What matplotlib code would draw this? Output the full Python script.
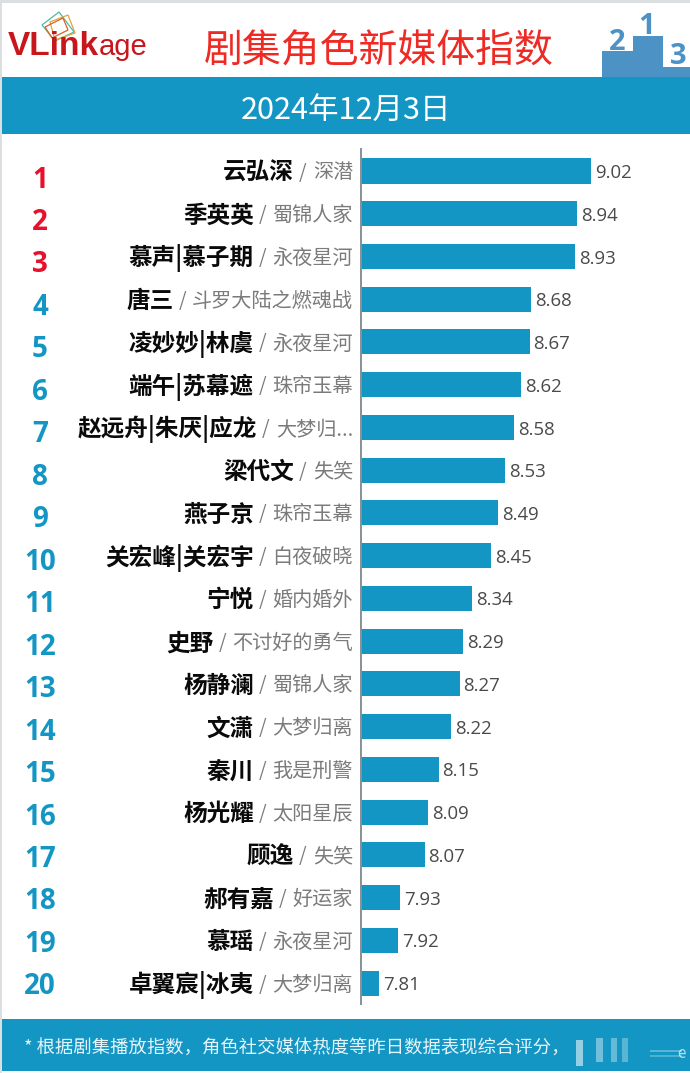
import matplotlib
matplotlib.use("Agg")

import matplotlib.pyplot as plt
from matplotlib.patches import Polygon, Rectangle

plt.rcParams["font.family"] = ["Noto Sans CJK SC", "DejaVu Sans"]

# ============================================================
# Data
# ============================================================

ranks = list(range(1, 21))

names = [
    "云弘深", "季英英", "慕声|慕子期", "唐三", "凌妙妙|林虞",
    "端午|苏幕遮", "赵远舟|朱厌|应龙", "梁代文", "燕子京", "关宏峰|关宏宇",
    "宁悦", "史野", "杨静澜", "文潇", "秦川",
    "杨光耀", "顾逸", "郝有嘉", "慕瑶", "卓翼宸|冰夷",
]

shows = [
    "深潜", "蜀锦人家", "永夜星河", "斗罗大陆之燃魂战", "永夜星河",
    "珠帘玉幕", "大梦归...", "失笑", "珠帘玉幕", "白夜破晓",
    "婚内婚外", "不讨好的勇气", "蜀锦人家", "大梦归离", "我是刑警",
    "太阳星辰", "失笑", "好运家", "永夜星河", "大梦归离",
]

values = [
    9.02, 8.94, 8.93, 8.68, 8.67, 8.62, 8.58, 8.53, 8.49, 8.45,
    8.34, 8.29, 8.27, 8.22, 8.15, 8.09, 8.07, 7.93, 7.92, 7.81,
]

title = "剧集角色新媒体指数"
date_label = "2024年12月3日"
footnote = "* 根据剧集播放指数，角色社交媒体热度等昨日数据表现综合评分，"

BLUE = "#1496c4"
RED = "#e8112d"
PODIUM = "#4d92c4"

W, H = 690, 1073


def main():

    fig = plt.figure(figsize=(W / 100, H / 100), dpi=100, facecolor="white")

    # page furniture, in pixel coordinates
    page = fig.add_axes([0, 0, 1, 1])
    page.set_xlim(0, W)
    page.set_ylim(H, 0)
    page.axis("off")

    page.add_patch(Rectangle((0, 0), W, 2.5, color="#dcdfe2", lw=0))
    page.add_patch(Rectangle((0, 0), 2, H, color="#dcdfe2", lw=0))
    page.add_patch(Rectangle((2, 77), W, 57, color=BLUE, lw=0))
    page.add_patch(Rectangle((2, 1019), W, 52, color=BLUE, lw=0))

    # logo
    page.add_patch(Polygon([(42, 25), (59, 12), (74, 32), (55, 41)], fill=False, ec="#4fb8a8", lw=0.9))
    page.add_patch(Polygon([(50, 22), (68, 15), (75, 33), (55, 40)], fill=False, ec="#e8a13a", lw=0.9))
    page.add_patch(Polygon([(45, 27), (63, 18), (68, 30), (52, 38)], fill=False, ec="#d9622b", lw=0.9))
    page.text(8, 55, "VLink", color="#c8161d", fontsize=24, fontweight="bold",
              family="Liberation Sans", ha="left", va="baseline")
    page.text(99, 55, "age", color="#c8161d", fontsize=21,
              family="Liberation Sans", ha="left", va="baseline")

    page.text(379, 52, title, color="#ee2a24", fontsize=28, ha="center", va="center")
    page.text(346, 110, date_label, color="white", fontsize=22, ha="center", va="center")

    # podium
    page.add_patch(Polygon(
        [(602, 77), (602, 51), (633, 51), (633, 36), (663, 36), (663, 67), (690, 67), (690, 77)],
        color=PODIUM, lw=0,
    ))
    page.text(617, 42, "2", color=PODIUM, fontsize=21, fontweight="bold",
              family="Open Sans", ha="center", va="center")
    page.text(647, 27, "1", color=PODIUM, fontsize=21, fontweight="bold",
              family="Open Sans", ha="center", va="center")
    page.text(678, 57, "3", color=PODIUM, fontsize=21, fontweight="bold",
              family="Open Sans", ha="center", va="center")

    page.text(24, 1049, footnote, color="#e6f5fb", fontsize=13.2, ha="left", va="center")

    # remains of the watermark over the footer
    for x0, wd, y0, ht, alpha in [(576, 7, 1040, 26, 0.55), (596, 7, 1038, 24, 0.4), (611, 6, 1038, 24, 0.35),
                                  (622, 6, 1038, 24, 0.3), (650, 32, 1050, 2, 0.3), (650, 32, 1055, 2, 0.25)]:
        page.add_patch(Rectangle((x0, y0), wd, ht, color="white", alpha=alpha, lw=0))
    page.text(681, 1054, "e", color="white", alpha=0.7, fontsize=11, ha="center", va="center")

    # bars
    left = 361
    top = 149
    bottom = 1004
    row0 = 171
    row_step = 42.74
    per_unit = 175

    ax = fig.add_axes([left / W, 1 - bottom / H, (W - left) / W, (bottom - top) / H])
    ax.patch.set_alpha(0)

    positions = list(range(len(values)))
    base = values[-1] - 18 / per_unit

    ax.barh(positions, values, height=0.585, color=BLUE, linewidth=0)
    ax.set_xlim(base, base + (W - left) / per_unit)
    ax.set_ylim((bottom - row0) / row_step, (top - row0) / row_step)

    for spine in ["top", "right", "bottom"]:
        ax.spines[spine].set_visible(False)
    ax.spines["left"].set_color("#8a8f94")
    ax.spines["left"].set_linewidth(1.4)
    ax.set_xticks([])
    ax.set_yticks([])

    for y, v in zip(positions, values):
        ax.annotate(f"{v:.2f}", (v, y), xytext=(2.8, -1.5), textcoords="offset points",
                    ha="left", va="center", fontsize=13.4, color="#4a4a4a",
                    family="Open Sans")

    # row labels are right aligned at x=353, built up from the right
    renderer = fig.canvas.get_renderer()

    for i, (rank, name, show) in enumerate(zip(ranks, names, shows)):

        y = row0 + row_step * i

        show_text = page.text(353, y + 2, show, color="#7b7b7b", fontsize=14.5,
                              fontweight="light", ha="right", va="center")
        x = show_text.get_window_extent(renderer).x0

        slash = page.text(x - 6, y + 2, "/", color="#7b7b7b", fontsize=14,
                          fontweight="light", ha="right", va="center")
        x = slash.get_window_extent(renderer).x0

        page.text(x - 5, y + 2, name, color="#0a0a0a", fontsize=17,
                  fontweight="bold", ha="right", va="center")

        page.text(40, 180 + 42.47 * i, str(rank), color=RED if rank <= 3 else BLUE,
                  fontsize=20, fontweight="bold", family="Open Sans",
                  ha="center", va="center")

    fig.savefig("out.png", dpi=100)
    plt.close(fig)


if __name__ == "__main__":
    main()
